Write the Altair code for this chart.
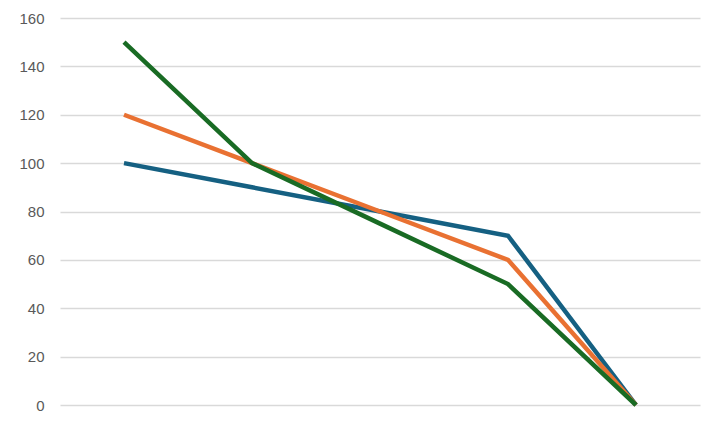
import altair as alt
import pandas as pd

categories = ["1", "2", "3", "4", "5"]
series_names = ["Series1", "Series2", "Series3"]
series1 = [100, 90, 80, 70, 0]
series2 = [120, 100, 80, 60, 0]
series3 = [150, 100, 75, 50, 0]
colors = ["#156082", "#E97132", "#196B24"]

rows = []
for order, (name, vals) in enumerate(zip(series_names, [series1, series2, series3])):
    for c, v in zip(categories, vals):
        rows.append({"cat": c, "series": name, "value": v, "order": order})
df = pd.DataFrame(rows)

chart = alt.Chart(df).mark_line(strokeWidth=4.5, strokeJoin="miter").encode(
    x=alt.X("cat:O", sort=categories, axis=None,
            scale=alt.Scale(type="point", padding=0.5)),
    y=alt.Y("value:Q",
            scale=alt.Scale(domain=[0, 160], nice=False),
            axis=alt.Axis(values=[0, 20, 40, 60, 80, 100, 120, 140, 160],
                          title=None, domain=False, ticks=False,
                          labelPadding=16, labelFontSize=15,
                          labelFont="Liberation Sans", labelColor="#595959",
                          gridColor="#D9D9D9", gridWidth=1.5)),
    color=alt.Color("series:N", scale=alt.Scale(domain=series_names, range=colors),
                    legend=None),
    detail="series:N",
    order=alt.Order("order:Q"),
).properties(
    width=640, height=387,
    autosize=alt.AutoSizeParams(type="none"),
    padding={"left": 52, "top": 10, "right": 16, "bottom": 17},
).configure_view(stroke=None)

chart.save("out.html", embed_options={"renderer": "svg", "actions": False})
